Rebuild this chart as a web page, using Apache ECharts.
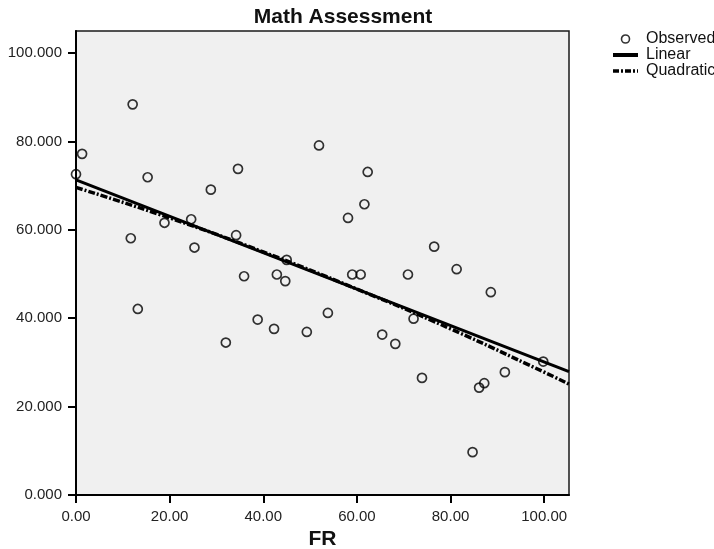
<!DOCTYPE html>
<html>
<head>
<meta charset="utf-8">
<title>Math Assessment</title>
<script src="https://cdn.jsdelivr.net/npm/echarts@6/dist/echarts.min.js"></script>
<style>
  html, body { margin: 0; padding: 0; background: #ffffff; }
  #chart { width: 714px; height: 549px; }
</style>
</head>
<body>
<div id="chart"></div>
<script>
// FR (x) and Math Assessment score (y) for each observed school
const frValues = [
  0.0, 1.3, 12.1, 11.7, 13.2, 15.3, 18.9, 24.6, 25.3, 28.8,
  32.0, 34.2, 34.6, 35.9, 38.8, 42.3, 42.9, 44.7, 45.0, 49.3,
  51.9, 53.8, 58.1, 59.0, 60.8, 61.6, 62.3, 65.4, 68.2, 70.9,
  72.1, 73.9, 76.5, 81.3, 84.7, 86.1, 87.2, 88.6, 91.6, 99.8
];
const mathScores = [
  72.6, 77.2, 88.4, 58.1, 42.1, 71.9, 61.6, 62.4, 56.0, 69.1,
  34.5, 58.8, 73.8, 49.5, 39.7, 37.6, 49.9, 48.4, 53.2, 36.9,
  79.1, 41.2, 62.7, 49.9, 49.9, 65.8, 73.1, 36.3, 34.2, 49.9,
  39.9, 26.5, 56.2, 51.1, 9.7, 24.3, 25.3, 45.9, 27.8, 30.2
];

// Fitted curves
const linearX = [0, 105.3];
const linearY = [71.3, 27.9];
const quadX = [0, 20, 40, 60, 80, 100, 105.3];
const quadY = [69.6, 62.7, 55.0, 46.6, 37.6, 27.8, 25.1];

// Axis ticks
const xTicks = [0, 20, 40, 60, 80, 100];
const yTicks = [0, 20, 40, 60, 80, 100];

const zip = (a, b) => a.map((v, i) => [v, b[i]]);

const FONT = '"Liberation Sans", Arial, Helvetica, sans-serif';
const hiddenSymbol = { color: 'rgba(0,0,0,0)', borderColor: 'rgba(0,0,0,0)', borderWidth: 0, opacity: 0 };
const QUAD_DASH = [7, 2, 2, 2];

const chart = echarts.init(document.getElementById('chart'), null, { renderer: 'canvas' });

chart.setOption({
  backgroundColor: '#ffffff',
  animation: false,
  title: {
    text: 'Math Assessment',
    left: 338,
    textAlign: 'center',
    top: 2,
    textStyle: { fontFamily: FONT, fontSize: 21, fontWeight: 'bold', color: '#111' }
  },
  legend: {
    orient: 'vertical',
    left: 611,
    top: 31,
    padding: 0,
    itemWidth: 25,
    itemHeight: 8,
    itemGap: 0,
    textStyle: { fontFamily: FONT, fontSize: 16, color: '#111', lineHeight: 16, padding: [0, 0, 0, 3] },
    data: [
      { name: 'Observed', itemStyle: { borderWidth: 1.6 } },
      { name: 'Linear', itemStyle: hiddenSymbol, lineStyle: { width: 4, color: '#000' } },
      { name: 'Quadratic', itemStyle: hiddenSymbol, lineStyle: { width: 3.5, color: '#000', type: [6, 2, 2, 2] } }
    ]
  },
  grid: {
    left: 76,
    right: 145,
    top: 31,
    bottom: 54,
    outerBoundsMode: 'none',
    show: true,
    backgroundColor: '#f0f0f0',
    borderColor: '#1a1a1a',
    borderWidth: 1.5
  },
  xAxis: {
    type: 'value',
    min: 0,
    max: 105.3,
    name: 'FR',
    nameLocation: 'middle',
    nameGap: 34,
    nameTextStyle: { fontFamily: FONT, fontSize: 21, fontWeight: 'bold', color: '#111' },
    splitLine: { show: false },
    axisLine: { show: true, onZero: false, lineStyle: { color: '#000', width: 2 } },
    axisTick: { show: true, length: 8, lineStyle: { color: '#000', width: 2 }, customValues: xTicks },
    axisLabel: {
      fontFamily: FONT, fontSize: 15, color: '#222', margin: 14,
      customValues: xTicks,
      formatter: v => v.toFixed(2)
    }
  },
  yAxis: {
    type: 'value',
    min: 0,
    max: 105,
    splitLine: { show: false },
    axisLine: { show: true, onZero: false, lineStyle: { color: '#000', width: 2 } },
    axisTick: { show: true, length: 8, lineStyle: { color: '#000', width: 2 }, customValues: yTicks },
    axisLabel: {
      fontFamily: FONT, fontSize: 15, color: '#222', margin: 14,
      customValues: yTicks,
      formatter: v => v.toFixed(3)
    }
  },
  series: [
    {
      name: 'Observed',
      type: 'scatter',
      symbol: 'circle',
      symbolSize: 9,
      itemStyle: { color: 'rgba(0,0,0,0)', borderColor: '#000', borderWidth: 1.7 },
      data: zip(frValues, mathScores),
      z: 3
    },
    {
      name: 'Linear',
      type: 'line',
      showSymbol: false,
      symbol: 'none',
      lineStyle: { color: '#000', width: 3 },
      itemStyle: { color: '#000' },
      data: zip(linearX, linearY),
      z: 2
    },
    {
      name: 'Quadratic',
      type: 'line',
      showSymbol: false,
      symbol: 'none',
      smooth: true,
      lineStyle: { color: '#000', width: 3.5, type: QUAD_DASH },
      itemStyle: { color: '#000' },
      data: zip(quadX, quadY),
      z: 2
    }
  ]
});
</script>
</body>
</html>
